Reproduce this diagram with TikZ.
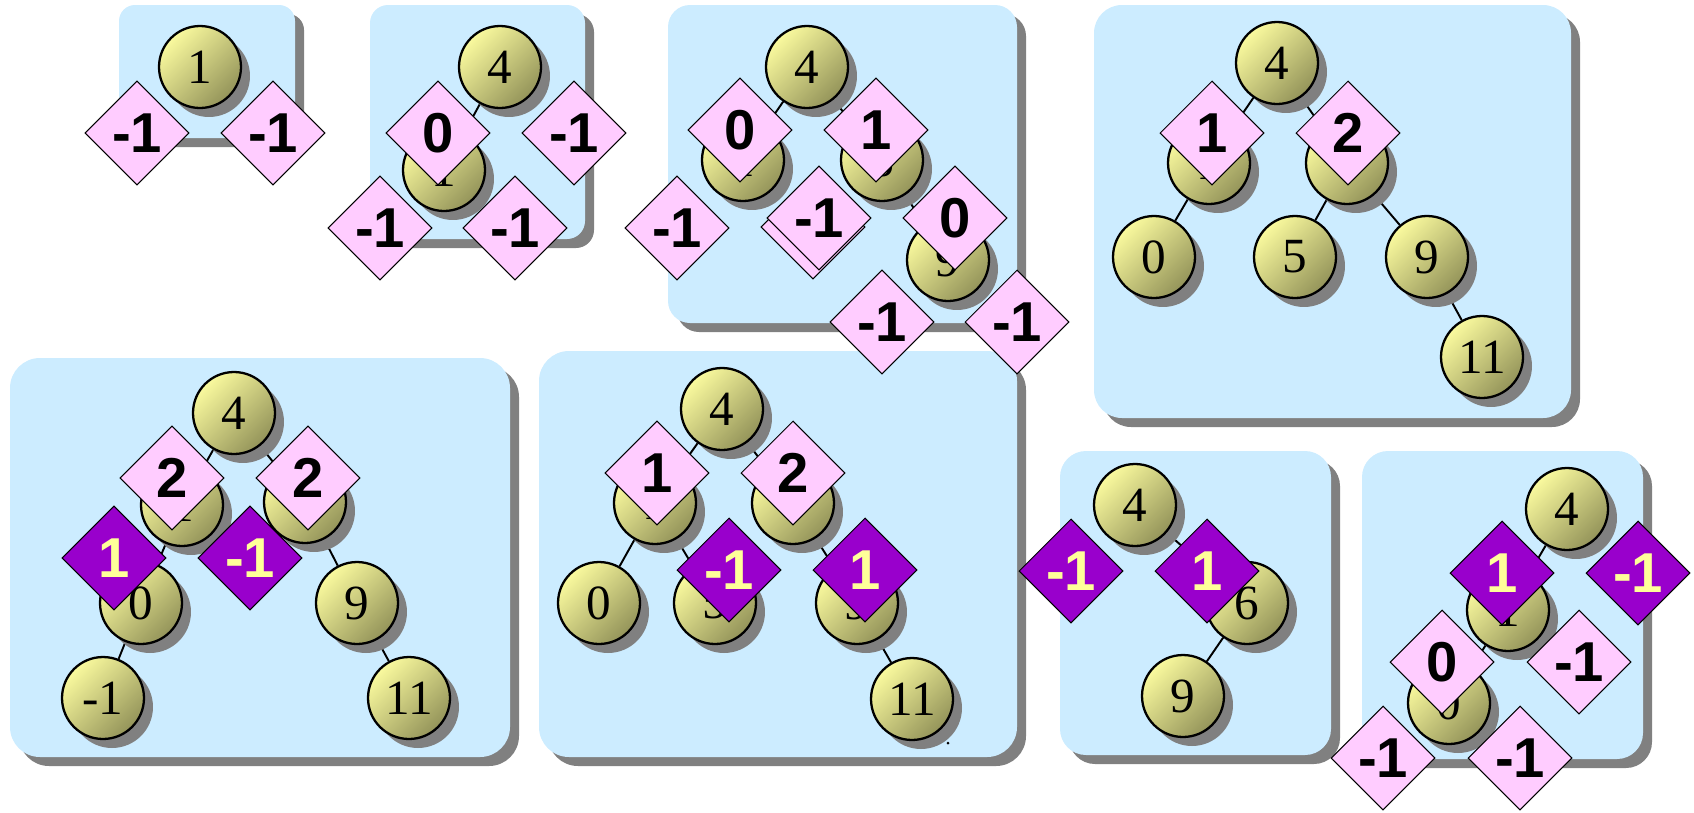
\documentclass[tikz,border=0pt]{standalone}
\usepackage{fontspec}
\usetikzlibrary{shapes.geometric,shadows}
\newfontfamily\ballfont{Liberation Serif}
\newfontfamily\tagfont{Liberation Sans}
\definecolor{panelblue}{RGB}{204,236,255}
\definecolor{shadowgray}{RGB}{128,128,128}
\definecolor{ballhi}{RGB}{250,250,158}
\definecolor{balllo}{RGB}{148,148,90}
\definecolor{tagpink}{RGB}{255,204,255}
\definecolor{tagpurple}{RGB}{153,0,204}
\definecolor{tagtext}{RGB}{255,255,153}
\pgfdeclarelayer{panels}
\pgfdeclarelayer{links}
\pgfsetlayers{panels,links,main}
% rounded panel with its shadow: left, top, right, bottom, corner
\newcommand\panelbox[5]{%
	\fill[shadowgray,rounded corners=#5] (#1+9,#2+9) rectangle (#3+9,#4+9);
	\fill[panelblue,rounded corners=#5] (#1,#2) rectangle (#3,#4);
}
\begin{document}
\begin{tikzpicture}[x=0.02cm,y=-0.02cm,
	ball/.style={circle,draw,line width=1.3pt,minimum size=1.64cm,inner sep=0pt,
		top color=ballhi,bottom color=balllo,shading angle=45,
		drop shadow={shadow xshift=0.18cm,shadow yshift=-0.18cm,fill=shadowgray,opacity=1},
		font=\ballfont\fontsize{28pt}{28pt}\selectfont},
	tag/.style={diamond,draw,line width=0.6pt,fill=tagpink,aspect=1,
		minimum width=2.08cm,minimum height=2.08cm,inner sep=0pt,
		font=\tagfont\bfseries\fontsize{32pt}{32pt}\selectfont},
	hot/.style={tag,fill=tagpurple,text=tagtext},
	link/.style={line width=1.1pt}]
	\useasboundingbox (0,0) rectangle (1694,812);
	% panels
	\begin{pgfonlayer}{panels}
		\panelbox{119}{5}{295}{138}{0.32cm}
		\panelbox{370}{5}{585}{239}{0.36cm}
		\panelbox{668}{5}{1017}{323}{0.44cm}
		\panelbox{1094}{5}{1571}{418}{0.56cm}
		\panelbox{10}{358}{510}{757}{0.6cm}
		\panelbox{539}{351}{1017}{757}{0.6cm}
		\panelbox{1060}{451}{1331}{755}{0.52cm}
		\panelbox{1362}{451}{1643}{759}{0.52cm}
	\end{pgfonlayer}
	% tree nodes
	\foreach \n/\x/\y/\t in {
		p1a/200/67/1,
		p2a/500/67/4, p2b/444/170/1,
		p3a/807/67/4, p3b/743/160/1, p3c/882/160/6, p3d/948/260/9,
		p4a/1277/63/4, p4b/1209/163/1, p4c/1347/163/6, p4d/1154/257/0,
		p4e/1295/257/5, p4f/1427/257/9, p4g/1482/357/11,
		p5a/234/413/4, p5b/182/505/1, p5c/305/502/6, p5d/141/603/0,
		p5e/103/698/-1, p5f/357/603/9, p5g/409/698/11,
		p6a/722/409/4, p6b/655/503/1, p6c/793/503/6, p6d/599/603/0,
		p6e/715/603/5, p6f/857/603/9, p6g/912/699/11,
		p7a/1135/505/4, p7b/1247/603/6, p7c/1183/696/9,
		p8a/1567/509/4, p8b/1508/610/1, p8c/1449/703/0}
		\node[ball] (\n) at (\x,\y) {\t};
	% edges
	\begin{pgfonlayer}{links}
		\foreach \a/\b in {p2a/p2b, p3a/p3b, p3a/p3c, p3c/p3d,
			p4a/p4b, p4a/p4c, p4b/p4d, p4c/p4e, p4c/p4f, p4f/p4g,
			p5a/p5b, p5a/p5c, p5b/p5d, p5d/p5e, p5c/p5f, p5f/p5g,
			p6a/p6b, p6a/p6c, p6b/p6d, p6b/p6e, p6c/p6f, p6f/p6g,
			p7a/p7b, p7b/p7c, p8a/p8b, p8b/p8c}
			\draw[link] (\a) -- (\b);
	\end{pgfonlayer}
	% heights, pink
	\foreach \n/\x/\y/\t in {
		h1a/137/133/-1, h1b/273/133/-1,
		h2a/438/133/0, h2b/574/133/-1, h2c/380/228/-1, h2d/515/228/-1,
		h3a/740/130/0, h3b/876/130/1, h3c/677/228/-1, h3d/813/227/-1,
		h3e/819/218/-1, h3f/955/218/0, h3g/882/322/-1, h3h/1017/322/-1,
		h4a/1212/133/1, h4b/1348/133/2,
		h5a/172/478/2, h5b/308/478/2,
		h6a/657/473/1, h6b/793/473/2,
		h8a/1442/662/0, h8b/1579/662/-1, h8c/1383/758/-1, h8d/1520/758/-1}
		\node[tag] (\n) at (\x,\y) {\t};
	% heights, purple
	\foreach \n/\x/\y/\t in {
		k5a/114/558/1, k5b/250/558/-1,
		k6a/729/570/-1, k6b/865/570/1,
		k7a/1071/571/-1, k7b/1207/571/1,
		k8a/1502/573/1, k8b/1638/573/-1}
		\node[hot] (\n) at (\x,\y) {\t};
	\fill (948,743) circle[radius=0.03cm];
\end{tikzpicture}
\end{document}
